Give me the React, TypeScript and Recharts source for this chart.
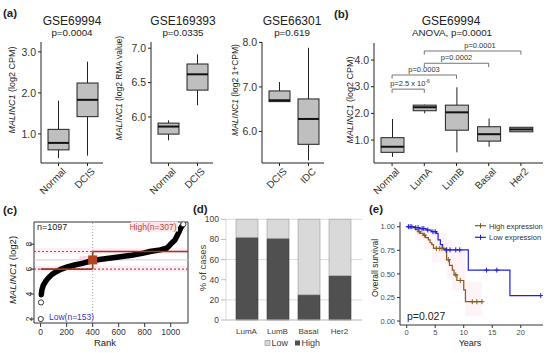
import React from 'react';
import {
  ComposedChart, BarChart, Bar, XAxis, YAxis, Line, Scatter, Area,
  ReferenceLine, ReferenceArea, ReferenceDot, CartesianGrid,
} from 'recharts';

const FF = '"Liberation Sans", Arial, Helvetica, sans-serif';

// ---------- (a) GSE69994 ----------
const a1Cats = ['Normal', 'DCIS'];
const a1Min = [0.41, 0.47];
const a1Q1 = [0.61, 1.42];
const a1Med = [0.78, 1.83];
const a1Q3 = [1.11, 2.24];
const a1Max = [1.81, 2.76];

// ---------- (a) GSE169393 ----------
const a2Cats = ['Normal', 'DCIS'];
const a2Min = [5.66, 6.17];
const a2Q1 = [5.75, 6.39];
const a2Med = [5.86, 6.62];
const a2Q3 = [5.91, 6.77];
const a2Max = [5.95, 6.91];

// ---------- (a) GSE66301 ----------
const a3Cats = ['DCIS', 'IDC'];
const a3Min = [6.67, 5.35];
const a3Q1 = [6.67, 5.71];
const a3Med = [6.70, 6.28];
const a3Q3 = [6.91, 6.73];
const a3Max = [7.11, 7.88];

// ---------- (b) GSE69994 subtypes ----------
const bCats = ['Normal', 'LumA', 'LumB', 'Basal', 'Her2'];
const bMin = [0.37, 2.0, 0.54, 0.75, 1.31];
const bQ1 = [0.54, 2.10, 1.37, 0.96, 1.31];
const bMed = [0.75, 2.23, 2.04, 1.22, 1.40];
const bQ3 = [1.09, 2.31, 2.31, 1.50, 1.48];
const bMax = [1.79, 2.33, 2.98, 1.81, 1.48];
const bBrFrom = ['Normal', 'Normal', 'LumA', 'LumA'];
const bBrTo = ['LumA', 'LumB', 'Basal', 'Her2'];
const bBrY = [2.91, 3.44, 3.88, 4.34];

// ---------- (c) rank plot ----------
const cRanks = [5, 10, 20, 40, 60, 90, 123, 160, 200, 260, 328, 400, 480, 585, 700, 790, 841, 918, 969, 995, 1007, 1033, 1059, 1077, 1090];
const cVals = [3.95, 4.35, 4.7, 5.05, 5.3, 5.6, 5.81, 6.0, 6.16, 6.33, 6.48, 6.69, 6.82, 6.96, 7.12, 7.28, 7.41, 7.54, 7.68, 7.94, 8.08, 8.34, 8.88, 9.3, 9.5];
const cOutRanks = [1, 3, 1097];
const cOutVals = [2.0, 3.33, 9.6];
const cTicksX = [0, 200, 400, 600, 800, 1000];
const cTicksY = [2, 4, 6, 8];
const cCut = 400;
const cLowThr = 6.0;
const cHighThr = 7.41;
const cMid = 6.74;

// ---------- (d) stacked % ----------
const dCats = ['LumA', 'LumB', 'Basal', 'Her2'];
const dHigh = [82, 81, 25, 44];
const dLow = [18, 19, 75, 56];

// ---------- (e) Kaplan-Meier ----------
const eLowT = [0, 1.2, 2.3, 3.4, 4.3, 5.2, 5.5, 5.9, 6.3, 6.5, 10.8, 18.1, 23.5];
const eLowS = [1, 0.99, 0.98, 0.965, 0.947, 0.93, 0.86, 0.81, 0.77, 0.755, 0.54, 0.27, 0.27];
const eHighT = [0, 1.5, 2.0, 2.4, 2.9, 3.3, 3.8, 4.1, 4.4, 4.7, 6.9, 7.0, 7.5, 8.0, 8.3, 8.8, 10.0, 10.3, 13.2];
const eHighS = [1, 0.97, 0.947, 0.93, 0.91, 0.885, 0.86, 0.83, 0.81, 0.77, 0.73, 0.65, 0.59, 0.54, 0.49, 0.43, 0.33, 0.205, 0.205];
const eLowCensT = [0.3, 0.6, 0.9, 1.6, 2.0, 2.7, 3.0, 3.7, 4.6, 5.0, 7.0, 7.6, 8.6, 9.3, 14.0, 15.8, 23.5];
const eLowCensS = [1, 1, 1, 0.99, 0.99, 0.98, 0.98, 0.965, 0.947, 0.947, 0.755, 0.755, 0.755, 0.755, 0.54, 0.54, 0.27];
const eHighCensT = [2.2, 3.1, 5.2, 5.8, 6.2, 7.3, 8.6, 9.4, 11.5, 12.3, 13.2];
const eHighCensS = [0.947, 0.91, 0.77, 0.77, 0.77, 0.65, 0.49, 0.43, 0.205, 0.205, 0.205];
const eCiT = [1.5, 3.0, 4.5, 7.0, 8.0, 10.3, 13.2];
const eCiLo = [0.86, 0.76, 0.62, 0.45, 0.32, 0.05, 0.05];
const eCiHi = [1.0, 1.0, 0.93, 0.86, 0.76, 0.42, 0.42];
const eTicksX = [0, 5, 10, 15, 20];
const eTicksY = [0, 0.25, 0.5, 0.75, 1];

// ---------- builders ----------
const buildBox = (cats: string[], mn: number[], q1: number[], md: number[], q3: number[], mx: number[]) =>
  cats.map((name, i) => ({ name, min: mn[i], q1: q1[i], med: md[i], q3: q3[i], max: mx[i], range: [mn[i], mx[i]] }));

const a1Rows = buildBox(a1Cats, a1Min, a1Q1, a1Med, a1Q3, a1Max);
const a2Rows = buildBox(a2Cats, a2Min, a2Q1, a2Med, a2Q3, a2Max);
const a3Rows = buildBox(a3Cats, a3Min, a3Q1, a3Med, a3Q3, a3Max);
const bRows = buildBox(bCats, bMin, bQ1, bMed, bQ3, bMax);
const cRows = cRanks.map((r, i) => ({ r, v: cVals[i] }));
const cOut = cOutRanks.map((r, i) => ({ r, v: cOutVals[i] }));
const dRows = dCats.map((name, i) => ({ name, high: dHigh[i], low: dLow[i] }));
const eLow = eLowT.map((t, i) => ({ t, s: eLowS[i] }));
const eHigh = eHighT.map((t, i) => ({ t, s: eHighS[i] }));
const eLowC = eLowCensT.map((t, i) => ({ t, s: eLowCensS[i] }));
const eHighC = eHighCensT.map((t, i) => ({ t, s: eHighCensS[i] }));
const eCi = eCiT.map((t, i) => ({ t, band: [eCiLo[i], eCiHi[i]] }));

// ---------- shapes ----------
const BoxShape = (props: any) => {
  const { x, y, width, height, payload } = props;
  if (x == null || y == null) return null;
  const top = Math.min(y, y + height);
  const h = Math.abs(height);
  const lo = payload.min, hi = payload.max;
  const span = hi - lo || 1;
  const py = (v: number) => top + ((hi - v) / span) * h;
  const cx = x + width / 2;
  return (
    <g>
      <line x1={cx} x2={cx} y1={py(hi)} y2={py(payload.q3)} stroke="#222" strokeWidth={1} />
      <line x1={cx} x2={cx} y1={py(payload.q1)} y2={py(lo)} stroke="#222" strokeWidth={1} />
      <rect x={x} y={py(payload.q3)} width={width} height={Math.max(0.5, py(payload.q1) - py(payload.q3))} fill="#bfbfbf" stroke="#222" strokeWidth={1} />
      <line x1={x} x2={x + width} y1={py(payload.med)} y2={py(payload.med)} stroke="#111" strokeWidth={2} />
    </g>
  );
};

const RotTick = (props: any) => {
  const { x, y, payload } = props;
  return (
    <text transform={`translate(${x + 3},${y - 1}) rotate(-45)`} textAnchor="end" dy="0.72em" fontSize={10} fill="#333" fontFamily={FF}>
      {payload.value}
    </text>
  );
};

const RotYTick = (props: any) => {
  const { x, y, payload } = props;
  return (
    <text transform={`translate(${x + 4},${y}) rotate(-90)`} textAnchor="middle" fontSize={8.5} fill="#333" fontFamily={FF}>
      {payload.value}
    </text>
  );
};

const OpenCircle = (props: any) => {
  const { cx, cy } = props;
  return <circle cx={cx} cy={cy} r={2.6} fill="#fff" stroke="#222" strokeWidth={0.9} />;
};

const Plus = (color: string) => (props: any) => {
  const { cx, cy } = props;
  return <path d={`M${cx - 2.5},${cy}h5M${cx},${cy - 2.5}v5`} stroke={color} strokeWidth={1} />;
};

const SquareDot = (props: any) => {
  const { cx, cy } = props;
  return <rect x={cx - 4.5} y={cy - 4.5} width={9} height={9} fill="#b3441c" />;
};

// ---------- box plot chart ----------
function BoxPlot(p: { left: number; width: number; top: number; rows: any[]; domain: [number, number]; ticks: number[]; barSize: number; padL: number; padR: number; right: number }) {
  return (
    <div style={{ position: 'absolute', left: p.left, top: 0 }}>
      <ComposedChart width={p.width} height={200} data={p.rows} margin={{ top: p.top, right: p.right, bottom: 0, left: 0 }}>
        <XAxis dataKey="name" type="category" height={37} interval={0} padding={{ left: p.padL, right: p.padR }}
          tick={<RotTick />} tickSize={3} axisLine={{ stroke: '#222' }} tickLine={{ stroke: '#222' }} />
        <YAxis type="number" width={41} domain={p.domain} ticks={p.ticks} allowDataOverflow
          tickFormatter={(v: number) => v.toFixed(1)} tick={{ fontSize: 10.5, fill: '#333', fontFamily: FF }}
          tickSize={3} axisLine={{ stroke: '#222' }} tickLine={{ stroke: '#222' }} />
        <Bar dataKey="range" shape={BoxShape} barSize={p.barSize} isAnimationActive={false} />
      </ComposedChart>
    </div>
  );
}

const txt = { fontFamily: FF, fill: '#222' } as const;

export default function App() {
  return (
    <div style={{ position: 'absolute', left: 0, top: 0, width: 550, height: 353, background: '#fff', overflow: 'hidden' }}>
      <BoxPlot left={0} width={110} top={42} right={7} rows={a1Rows} domain={[0.29, 3.24]} ticks={[1, 2, 3]} barSize={21} padL={3} padR={1} />
      <BoxPlot left={110} width={110} top={42} right={7} rows={a2Rows} domain={[5.33, 7.09]} ticks={[6, 6.5, 7]} barSize={21} padL={3} padR={1} />
      <BoxPlot left={221} width={110} top={42} right={7} rows={a3Rows} domain={[5.29, 8.01]} ticks={[6, 7, 8]} barSize={21} padL={3} padR={1} />

      <div style={{ position: 'absolute', left: 333, top: 0 }}>
        <ComposedChart width={215} height={200} data={bRows} margin={{ top: 43, right: 5, bottom: 0, left: 0 }}>
          <XAxis dataKey="name" type="category" height={37} interval={0} padding={{ left: 2, right: 6 }}
            tick={<RotTick />} tickSize={3} axisLine={{ stroke: '#222' }} tickLine={{ stroke: '#222' }} />
          <YAxis type="number" width={41} domain={[0.14, 4.64]} ticks={[1, 2, 3, 4]} allowDataOverflow
            tickFormatter={(v: number) => v.toFixed(1)} tick={{ fontSize: 10.5, fill: '#333', fontFamily: FF }}
            tickSize={3} axisLine={{ stroke: '#222' }} tickLine={{ stroke: '#222' }} />
          <Bar dataKey="range" shape={BoxShape} barSize={23} isAnimationActive={false} />
          {bBrY.map((yv, i) => (
            <ReferenceLine key={'h' + i} segment={[{ x: bBrFrom[i], y: yv }, { x: bBrTo[i], y: yv }]} stroke="#666" strokeWidth={0.9} />
          ))}
          {bBrY.map((yv, i) => (
            <ReferenceLine key={'l' + i} segment={[{ x: bBrFrom[i], y: yv }, { x: bBrFrom[i], y: yv - 0.14 }]} stroke="#666" strokeWidth={0.9} />
          ))}
          {bBrY.map((yv, i) => (
            <ReferenceLine key={'r' + i} segment={[{ x: bBrTo[i], y: yv }, { x: bBrTo[i], y: yv - 0.14 }]} stroke="#666" strokeWidth={0.9} />
          ))}
        </ComposedChart>
      </div>

      {/* (c) */}
      <div style={{ position: 'absolute', left: 0, top: 200 }}>
        <ComposedChart width={200} height={153} data={cRows} margin={{ top: 22, right: 12, bottom: 0, left: 0 }}>
          <XAxis type="number" dataKey="r" domain={[-51, 1133]} ticks={cTicksX} height={30} axisLine={false} allowDataOverflow
            tickSize={4} tickLine={{ stroke: '#333' }} tick={{ fontSize: 8.5, fill: '#333', fontFamily: FF }} />
          <YAxis type="number" dataKey="v" domain={[1.68, 9.78]} ticks={cTicksY} width={34} axisLine={false} allowDataOverflow
            tickSize={4} tickLine={{ stroke: '#333' }} tick={<RotYTick />} />
          <ReferenceArea x1={-51} x2={1133} y1={7.23} y2={7.68} fill="#fde3ee" fillOpacity={0.7} stroke="none" ifOverflow="visible" />
          <ReferenceArea x1={-51} x2={1133} y1={5.81} y2={6.26} fill="#fde3ee" fillOpacity={0.7} stroke="none" ifOverflow="visible" />
          <ReferenceArea x1={300} x2={cCut} y1={6.42} y2={7.06} fill="#fbcfe1" fillOpacity={0.8} stroke="none" ifOverflow="visible" />
          <ReferenceLine y={cMid} stroke="#cfcfcf" strokeWidth={1} />
          <ReferenceLine x={cCut} stroke="#a8a8a8" strokeDasharray="1 2" />
          <ReferenceLine y={cHighThr} stroke="#c4463a" strokeDasharray="2 2" strokeWidth={1.1} />
          <ReferenceLine y={cLowThr} stroke="#c4463a" strokeDasharray="2 2" strokeWidth={1.1} />
          <Line dataKey="v" stroke="#000" strokeWidth={5.5} strokeLinecap="round" dot={false} isAnimationActive={false} />
          <Scatter data={cOut} dataKey="v" shape={OpenCircle} isAnimationActive={false} />
          <ReferenceLine segment={[{ x: 0, y: cLowThr }, { x: cCut, y: cLowThr }]} stroke="#9a3a1c" strokeWidth={1.6} />
          <ReferenceLine segment={[{ x: cCut, y: cHighThr }, { x: 1133, y: cHighThr }]} stroke="#9a3a1c" strokeWidth={1.6} />
          <ReferenceLine segment={[{ x: cCut, y: cLowThr }, { x: cCut, y: cHighThr }]} stroke="#9a3a1c" strokeWidth={1.6} />
          <ReferenceDot x={cCut} y={cMid} shape={SquareDot} />
          <ReferenceArea x1={-51} x2={1133} y1={1.68} y2={9.78} fill="none" stroke="#333" strokeWidth={1} ifOverflow="visible" />
        </ComposedChart>
      </div>

      {/* (d) */}
      <div style={{ position: 'absolute', left: 195, top: 200 }}>
        <BarChart width={170} height={153} data={dRows} margin={{ top: 19.3, right: 3, bottom: 0, left: 0 }}>
          <CartesianGrid vertical={false} stroke="#dcdcdc" />
          <XAxis dataKey="name" height={33} padding={{ left: 5, right: 7 }} tickLine={false} axisLine={{ stroke: '#c8c8c8' }}
            tick={{ fontSize: 8, fill: '#404040', fontFamily: FF }} />
          <YAxis type="number" width={31} domain={[0, 100]} ticks={[0, 20, 40, 60, 80, 100]} axisLine={{ stroke: '#dcdcdc' }}
            tickLine={{ stroke: '#bdbdbd' }} tickSize={5} tick={{ fontSize: 8.5, fill: '#404040', fontFamily: FF }} />
          <Bar dataKey="high" stackId="s" fill="#505050" stroke="#3a3a3a" strokeWidth={0.6} barSize={22} isAnimationActive={false} />
          <Bar dataKey="low" stackId="s" fill="#d9d9d9" stroke="#9a9a9a" strokeWidth={0.6} barSize={22} isAnimationActive={false} />
        </BarChart>
      </div>

      {/* (e) */}
      <div style={{ position: 'absolute', left: 360, top: 200 }}>
        <ComposedChart width={190} height={153} margin={{ top: 22, right: 7, bottom: 0, left: 0 }}>
          <XAxis type="number" dataKey="t" domain={[-1.175, 23.9]} ticks={eTicksX} height={28} allowDataOverflow
            tickSize={3} axisLine={{ stroke: '#333' }} tickLine={{ stroke: '#333' }} tick={{ fontSize: 7.5, fill: '#4d4d4d', fontFamily: FF }} />
          <YAxis type="number" dataKey="s" domain={[-0.042, 1.05]} ticks={eTicksY} width={40} allowDataOverflow
            tickFormatter={(v: number) => v.toFixed(2)} tickSize={3} axisLine={{ stroke: '#333' }} tickLine={{ stroke: '#333' }}
            tick={{ fontSize: 7.5, fill: '#4d4d4d', fontFamily: FF }} />
          <Area data={eCi} dataKey="band" type="stepAfter" fill="#f7b3cd" fillOpacity={0.16} stroke="none" isAnimationActive={false} />
          <Line data={eHigh} dataKey="s" type="stepAfter" stroke="#8a5a1c" strokeWidth={1.2} dot={false} isAnimationActive={false} />
          <Scatter data={eHighC} dataKey="s" shape={Plus('#8a5a1c')} isAnimationActive={false} />
          <Line data={eLow} dataKey="s" type="stepAfter" stroke="#2020dd" strokeWidth={1.2} dot={false} isAnimationActive={false} />
          <Scatter data={eLowC} dataKey="s" shape={Plus('#2020dd')} isAnimationActive={false} />
        </ComposedChart>
      </div>

      {/* text overlay */}
      <svg width={550} height={353} style={{ position: 'absolute', left: 0, top: 0, pointerEvents: 'none' }}>
        <g {...txt}>
          <text x={3} y={17} fontSize={11.5} fontWeight="bold">(a)</text>
          <text x={72} y={25} fontSize={12} textAnchor="middle">GSE69994</text>
          <text x={72} y={36} fontSize={9.8} textAnchor="middle">p=0.0004</text>
          <text x={183} y={25} fontSize={12} textAnchor="middle">GSE169393</text>
          <text x={183} y={36} fontSize={9.8} textAnchor="middle">p=0.0335</text>
          <text x={292} y={25} fontSize={12} textAnchor="middle">GSE66301</text>
          <text x={292} y={36} fontSize={9.8} textAnchor="middle">p=0.619</text>
          <text x={334} y={18} fontSize={11.5} fontWeight="bold">(b)</text>
          <text x={451} y={25} fontSize={12} textAnchor="middle">GSE69994</text>
          <text x={452} y={36} fontSize={9.8} textAnchor="middle">ANOVA, p=0.0001</text>

          <text transform="translate(12,90) rotate(-90)" fontSize={9} textAnchor="middle" dominantBaseline="central">
            <tspan fontStyle="italic">MALINC1</tspan> (log2 CPM)</text>
          <text transform="translate(119,88) rotate(-90)" fontSize={8.5} textAnchor="middle" dominantBaseline="central">
            <tspan fontStyle="italic">MALINC1</tspan> (log2 RMA value)</text>
          <text transform="translate(235,90) rotate(-90)" fontSize={8.5} textAnchor="middle" dominantBaseline="central">
            <tspan fontStyle="italic">MALINC1</tspan> (log2 1+CPM)</text>
          <text transform="translate(349.5,100) rotate(-90)" fontSize={9} textAnchor="middle" dominantBaseline="central">
            <tspan fontStyle="italic">MALINC1</tspan> (log2 CPM)</text>

          <g fontSize={7.5} fill="#333" textAnchor="middle">
            <text x={410} y={86}>p=2.5 x 10<tspan fontSize={5} dy={-3}>-6</tspan></text>
            <text x={424} y={72}>p=0.0003</text>
            <text x={456.5} y={60.3}>p=0.0002</text>
            <text x={480} y={48}>p=0.0001</text>
          </g>

          <text x={3} y={214} fontSize={11.5} fontWeight="bold">(c)</text>
          <text x={37} y={229.5} fontSize={9}>n=1097</text>
          <rect x={131} y={221.5} width={47} height={10} fill="#fde3ee" />
          <text x={176.5} y={229.5} fontSize={8.5} textAnchor="end" fill="#b3503a">High(n=307)</text>
          <text x={49} y={319.5} fontSize={8.5} fill="#3535cc">Low(n=153)</text>
          <text x={105} y={345.5} fontSize={9.5} textAnchor="middle">Rank</text>
          <text transform="translate(12,270) rotate(-90)" fontSize={9.5} textAnchor="middle" dominantBaseline="central">
            <tspan fontStyle="italic">MALINC1</tspan> (log2)</text>

          <text x={193} y={213} fontSize={11.5} fontWeight="bold">(d)</text>
          <text transform="translate(202,268) rotate(-90)" fontSize={9.5} textAnchor="middle" dominantBaseline="central" fill="#404040">% of cases</text>
          <rect x={265} y={340.5} width={5} height={5} fill="#d9d9d9" stroke="#8a8a8a" strokeWidth={0.6} />
          <text x={271.5} y={346} fontSize={9} fill="#404040">Low</text>
          <rect x={295} y={340.5} width={5} height={5} fill="#505050" />
          <text x={301.5} y={346} fontSize={9} fill="#404040">High</text>

          <text x={369} y={213} fontSize={11.5} fontWeight="bold">(e)</text>
          <text transform="translate(375,268) rotate(-90)" fontSize={8.5} textAnchor="middle" dominantBaseline="central">Overall survival</text>
          <text x={470} y={345.5} fontSize={9} textAnchor="middle">Years</text>
          <text x={407} y={319.5} fontSize={10.5}>p=0.027</text>
          <line x1={475} x2={486} y1={225.7} y2={225.7} stroke="#8a5a1c" strokeWidth={1.2} />
          <path d="M480.5,223.2v5" stroke="#8a5a1c" strokeWidth={1} />
          <text x={489} y={228.5} fontSize={7.5} fill="#333">High expression</text>
          <line x1={475} x2={486} y1={237.3} y2={237.3} stroke="#2020dd" strokeWidth={1.2} />
          <path d="M480.5,234.8v5" stroke="#2020dd" strokeWidth={1} />
          <text x={489} y={240} fontSize={7.5} fill="#333">Low expression</text>
        </g>
      </svg>
    </div>
  );
}
